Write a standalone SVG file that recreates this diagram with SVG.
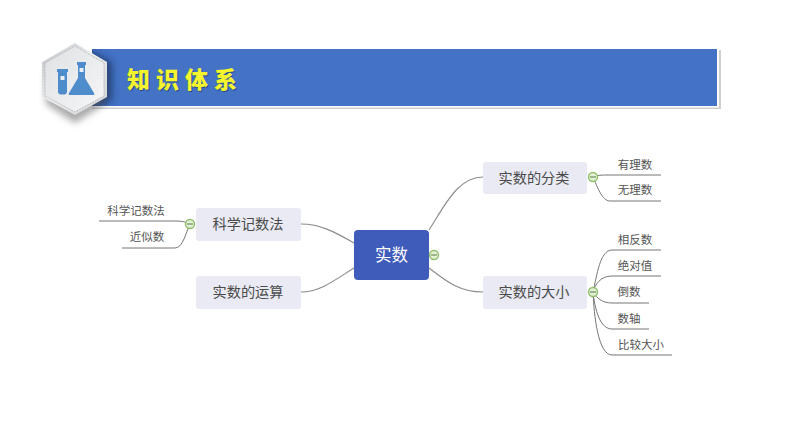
<svg xmlns="http://www.w3.org/2000/svg" width="794" height="447" viewBox="0 0 794 447">
<defs>
<style>
text{font-family:"Noto Sans CJK SC","Noto Sans",sans-serif;text-anchor:middle}
.n{fill:#e9eaf4}
.t{font-size:14.200px;fill:#4a4a4a}
.s{font-size:11.500px;fill:#555}
.c{fill:none;stroke:#8a8a86;stroke-width:1.1}
.l{fill:none;stroke:#777;stroke-width:1}
.b{fill:#e4f0d8;stroke:#8fbf6a;stroke-width:1.4}
.m{stroke:#6f8f55;stroke-width:1.2}
.h{font-size:23px;font-weight:900;letter-spacing:6px;text-anchor:start}
</style>
<linearGradient id="hex" x1="0" y1="0" x2="1" y2="1">
<stop offset="0" stop-color="#bfc2c6"/><stop offset=".45" stop-color="#eceded"/><stop offset="1" stop-color="#cfd1d4"/>
</linearGradient>
<linearGradient id="hexin" x1="0" y1="0" x2="1" y2="1">
<stop offset="0" stop-color="#dfe1e4"/><stop offset="1" stop-color="#f6f6f7"/>
</linearGradient>
<clipPath id="bc"><rect x="92" y="49" width="625" height="57"/></clipPath>
<filter id="blur" x="-30%" y="-30%" width="160%" height="160%"><feGaussianBlur stdDeviation="3.500"/></filter>
</defs>
<rect width="794" height="447" fill="#fff"/>

<g id="banner">
<rect x="92" y="50" width="629" height="59" fill="#cfcfcf"/>
<rect x="92" y="48" width="627" height="59.500" fill="#fff"/>
<rect x="92" y="49" width="625" height="57" fill="#4472c4"/>
<polygon clip-path="url(#bc)" points="78,43 112,62 112,100 78,118 45,97 45,62" fill="#1d3566" opacity=".75" filter="url(#blur)"/>
<text class="h" x="127" y="88" fill="#274a8a" transform="translate(1 1)">知识体系</text>
<text class="h" x="127" y="88" fill="#f4f52e">知识体系</text>
</g>

<g id="badge">
<polygon points="75,52 105,70 105,104 75,123 46,104 46,70" fill="#555" opacity=".5" filter="url(#blur)"/>
<polygon points="75,43 107,62 107,97 75,115 42,97 42,62" fill="url(#hex)"/>
<polygon points="75,46 104,63 104,96 75,112 45,96 45,63" fill="url(#hexin)" stroke="#9aa0a6" stroke-width=".6" stroke-dasharray="2 1"/>
<rect x="58" y="70" width="9" height="24.500" rx="3" fill="#4f8ccb"/>
<rect x="57" y="69" width="11" height="3" fill="#4f8ccb"/>
<rect x="60.500" y="76" width="4" height="4" fill="#e8eef5"/>
<path d="M77 62h9v3h-1v13l9 15q1 2-1 2H70q-2 0-1-2l9-15V65h-1z" fill="#4f8ccb"/>
<rect x="79.500" y="68" width="4" height="4" fill="#e8eef5"/>
</g>

<g id="connectors">
<path class="c" d="M429 230C445 205 458 177 483 177"/>
<path class="c" d="M429 268C445 280 458 292 483 292"/>
<path class="c" d="M354 243C335 232 320 224 301 224"/>
<path class="c" d="M354 268C335 280 320 292 301 292"/>
<path class="l" d="M593 177C597 175 602 175 608 175H661"/>
<path class="l" d="M593 177C597 186 602 201 610 201H661"/>
<path class="l" d="M593 292C597 275 600 250 612 250H661"/>
<path class="l" d="M593 292C595 285 600 276 612 276H661"/>
<path class="l" d="M593 292C597 298 602 303 612 303H649"/>
<path class="l" d="M593 292C595 310 600 329 612 329H649"/>
<path class="l" d="M593 292C594 315 598 355 612 355H672"/>
<path class="l" d="M190 224C186 222 182 221 176 221H99"/>
<path class="l" d="M190 224C186 232 183 248 175 248H122"/>
</g>

<g id="node-root">
<rect x="354" y="230" width="75" height="50" rx="4" fill="#3f5cba"/>
<text x="391.500" y="261" font-size="16.500" fill="#fff">实数</text>
<circle class="b" cx="434" cy="255" r="4.500"/><line class="m" x1="431" y1="255" x2="437" y2="255"/>
</g>
<g id="node-classify">
<rect class="n" x="483" y="162" width="104" height="32" rx="3"/>
<text class="t" x="534" y="183">实数的分类</text>
<circle class="b" cx="593" cy="177" r="4.500"/><line class="m" x1="590" y1="177" x2="596" y2="177"/>
</g>
<g id="node-compare">
<rect class="n" x="483" y="276" width="104" height="33" rx="3"/>
<text class="t" x="534" y="297">实数的大小</text>
<circle class="b" cx="593" cy="292" r="4.500"/><line class="m" x1="590" y1="292" x2="596" y2="292"/>
</g>
<g id="node-sci">
<rect class="n" x="196" y="208" width="105" height="33" rx="3"/>
<text class="t" x="248" y="229">科学记数法</text>
<circle class="b" cx="190" cy="224" r="4.500"/><line class="m" x1="187" y1="224" x2="193" y2="224"/>
</g>
<g id="node-ops">
<rect class="n" x="196" y="276" width="105" height="33" rx="3"/>
<text class="t" x="248" y="297">实数的运算</text>
</g>
<g id="leaf-1"><text class="s" x="635" y="169">有理数</text></g>
<g id="leaf-2"><text class="s" x="635" y="194">无理数</text></g>
<g id="leaf-3"><text class="s" x="635" y="244">相反数</text></g>
<g id="leaf-4"><text class="s" x="635" y="270">绝对值</text></g>
<g id="leaf-5"><text class="s" x="629" y="296">倒数</text></g>
<g id="leaf-6"><text class="s" x="629" y="323">数轴</text></g>
<g id="leaf-7"><text class="s" x="641" y="349">比较大小</text></g>
<g id="leaf-8"><text class="s" x="136" y="215">科学记数法</text></g>
<g id="leaf-9"><text class="s" x="147" y="241">近似数</text></g>
</svg>
